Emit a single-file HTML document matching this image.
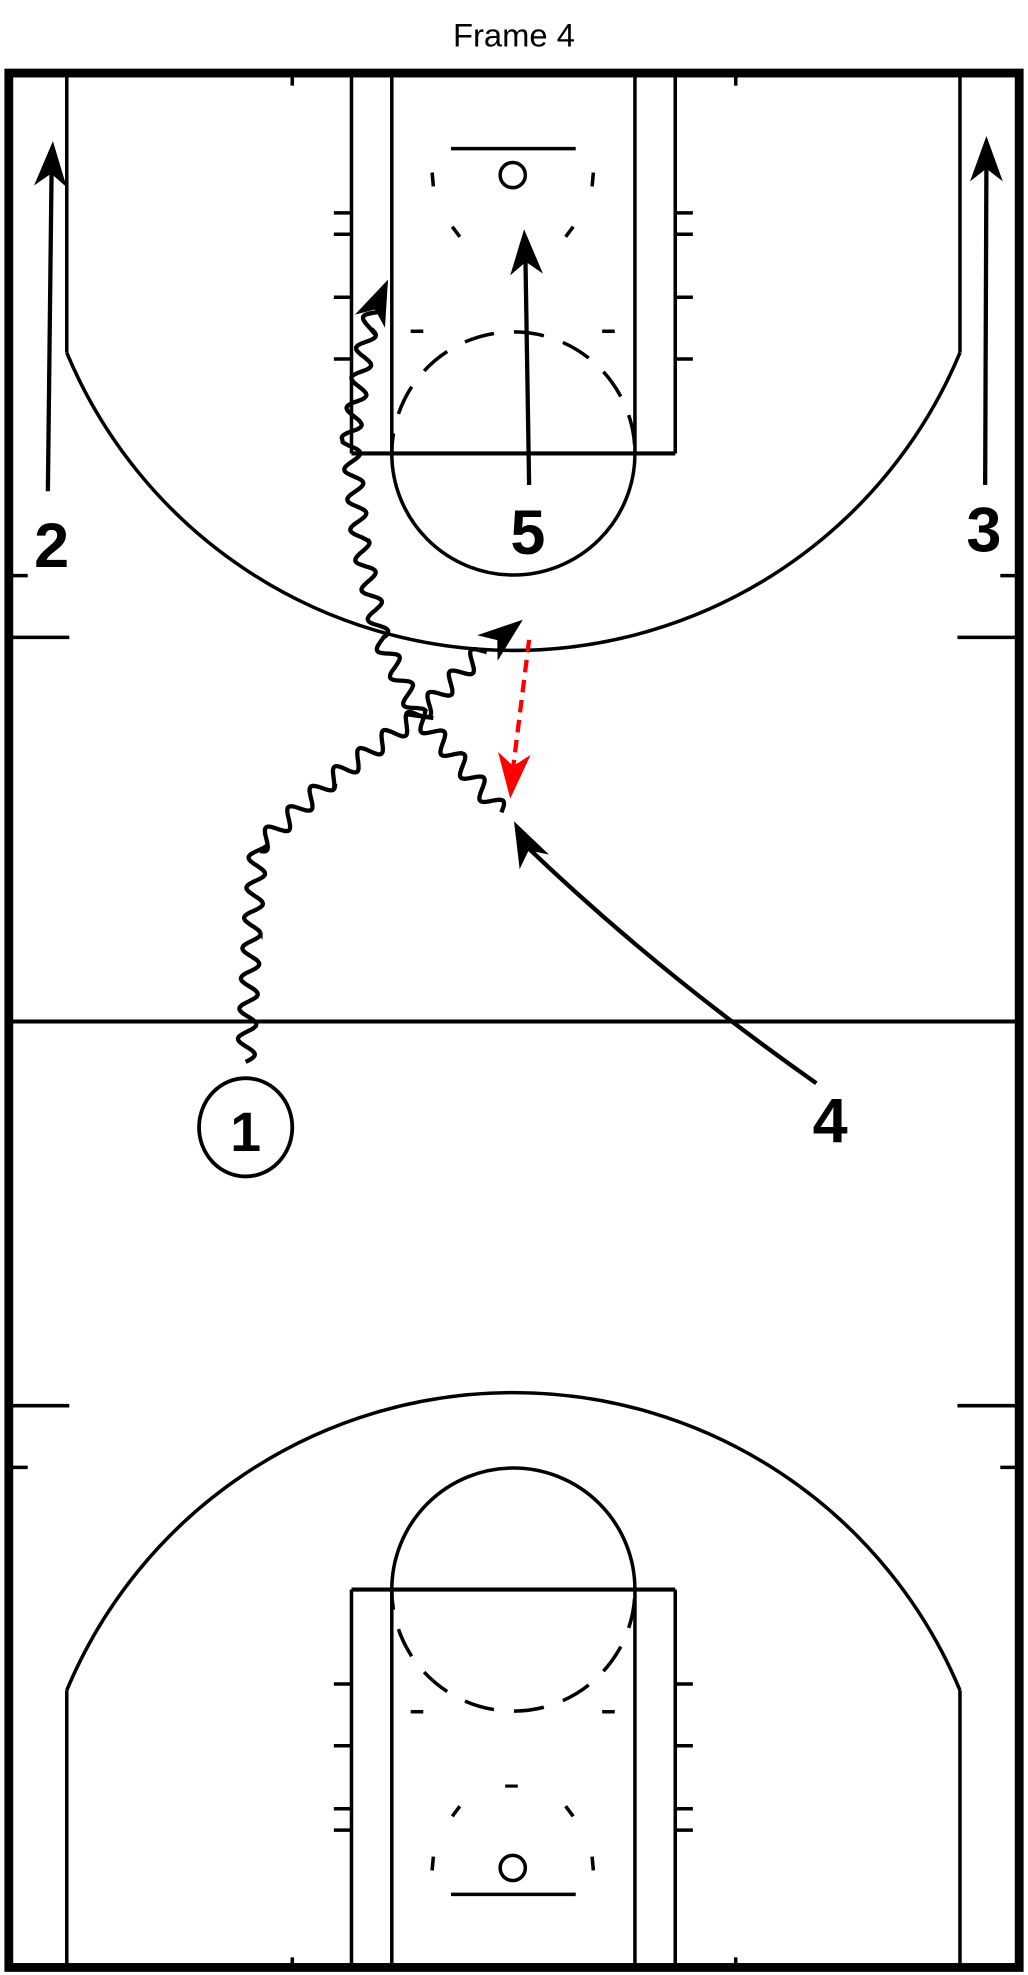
<!DOCTYPE html>
<html><head><meta charset="utf-8"><style>
html,body{margin:0;padding:0;background:#fff;}
svg{display:block;}
text{font-family:"Liberation Sans",Arial,sans-serif;}
</style></head><body>
<svg id="s" width="1028" height="1975" viewBox="0 0 816 1568" preserveAspectRatio="none" xmlns="http://www.w3.org/2000/svg">
<rect x="0" y="0" width="816" height="1568" fill="#fff"/>
<text x="408" y="37" font-size="26" text-anchor="middle">Frame 4</text>
<g id="half" fill="none" stroke="#000" stroke-width="2.8">
  <line x1="279" y1="60" x2="279" y2="360"/>
  <line x1="536" y1="60" x2="536" y2="360"/>
  <line x1="311" y1="60" x2="311" y2="360"/>
  <line x1="504" y1="60" x2="504" y2="360"/>
  <line x1="279" y1="360" x2="536" y2="360" stroke-width="3.2"/>
  <path d="M311 360 A96 96 0 0 0 504 360"/>
  <path d="M311 360 A96 96 0 0 1 504 360" stroke-dasharray="24 16" stroke-dashoffset="8"/>
  <line x1="53" y1="60" x2="53" y2="280"/>
  <line x1="762" y1="60" x2="762" y2="280"/>
  <path d="M53 280 A384 384 0 0 0 762 280"/>
  <line x1="358" y1="118" x2="457" y2="118"/>
  <circle cx="407" cy="139" r="10"/>
  <line x1="343" y1="137" x2="344" y2="148"/>
  <line x1="471" y1="137" x2="470" y2="148"/>
  <line x1="359" y1="180" x2="365" y2="188"/>
  <line x1="455" y1="180" x2="449" y2="188"/>
  <line x1="326" y1="263" x2="336" y2="263"/>
  <line x1="478" y1="263" x2="488" y2="263"/>
  <line x1="265" y1="169" x2="279" y2="169"/><line x1="265" y1="186" x2="279" y2="186"/>
  <line x1="265" y1="236" x2="279" y2="236"/><line x1="265" y1="285" x2="279" y2="285"/>
  <line x1="536" y1="169" x2="550" y2="169"/><line x1="536" y1="186" x2="550" y2="186"/>
  <line x1="536" y1="236" x2="550" y2="236"/><line x1="536" y1="285" x2="550" y2="285"/>
  <line x1="232" y1="60" x2="232" y2="68"/><line x1="584" y1="60" x2="584" y2="68"/>
  <line x1="8" y1="457" x2="22" y2="457"/><line x1="8" y1="506" x2="55" y2="506"/>
  <line x1="794" y1="457" x2="808" y2="457"/><line x1="760" y1="506" x2="808" y2="506"/>
</g>
<use href="#half" transform="translate(0,1622) scale(1,-1)"/>
<line x1="401" y1="1418" x2="411" y2="1418" stroke="#000" stroke-width="2.5"/>
<line x1="7" y1="811" x2="809" y2="811" stroke="#000" stroke-width="3.2"/>
<rect x="7" y="58" width="802" height="1504" fill="none" stroke="#000" stroke-width="7"/>
<g id="plays" fill="none" stroke="#000" stroke-width="3.4"></g>
<g font-weight="bold" font-size="50" text-anchor="middle" fill="#000">
<text x="41" y="450">2</text>
<text x="781" y="438">3</text>
<text x="419" y="440">5</text>
<text x="659" y="907">4</text>
<text x="195" y="914" font-size="44">1</text>
</g>
<ellipse cx="195" cy="895" rx="37" ry="39" fill="none" stroke="#000" stroke-width="3"/>
</svg>
<script>
var g=document.getElementById('plays'),NS='http://www.w3.org/2000/svg';
function el(n,a){var e=document.createElementNS(NS,n);for(var k in a)e.setAttribute(k,a[k]);g.appendChild(e);return e;}
function head(tx,ty,fx,fy,col){var dx=tx-fx,dy=ty-fy,L=Math.hypot(dx,dy);dx/=L;dy/=L;var nx=-dy,ny=dx,len=36,w=13;
 var bx=tx-dx*len,by=ty-dy*len,mx=tx-dx*len*0.72,my=ty-dy*len*0.72;
 el('path',{d:'M'+tx+' '+ty+' L'+(bx+nx*w)+' '+(by+ny*w)+' L'+mx+' '+my+' L'+(bx-nx*w)+' '+(by-ny*w)+'Z',fill:col||'#000',stroke:'none'});}
function wavy(pts){var d='',first=true,ph=0,wl=24;
 for(var i=0;i<pts.length-1;i++){var a=pts[i],b=pts[i+1],dx=b[0]-a[0],dy=b[1]-a[1],L=Math.hypot(dx,dy),ux=dx/L,uy=dy/L,nx=-uy,ny=ux;
  for(var t=0;t<=L;t+=1){var s=Math.sin(ph+t/wl*2*Math.PI);var o=7*s;var x=a[0]+ux*t+nx*o,y=a[1]+uy*t+ny*o;d+=(first?'M':'L')+x.toFixed(1)+' '+y.toFixed(1);first=false;}
  ph+=L/wl*2*Math.PI;}
 el('path',{d:d});}
el('line',{x1:38,y1:390,x2:41,y2:130});head(42,112,41,130);
el('line',{x1:782,y1:385,x2:783,y2:126});head(783,108,783,126);
el('line',{x1:420,y1:385,x2:417,y2:200});head(416,182,417,200);
el('path',{d:'M648 860 Q520 770 418 672'});head(408,652,418,672);
wavy([[195,843],[200,740],[205,672],[262,620],[332,568],[385,515]]);head(415,492,390,512);
wavy([[398,645],[362,602],[332,568],[302,506],[286,430],[278,350],[292,262],[298,245]]);head(308,222,298,245);
el('line',{x1:322,y1:567,x2:344,y2:570});
el('line',{x1:420,y1:508,x2:407,y2:612,stroke:'#f00','stroke-dasharray':'10 6'});head(405,634,407,612,'#f00');
</script>
</body></html>
